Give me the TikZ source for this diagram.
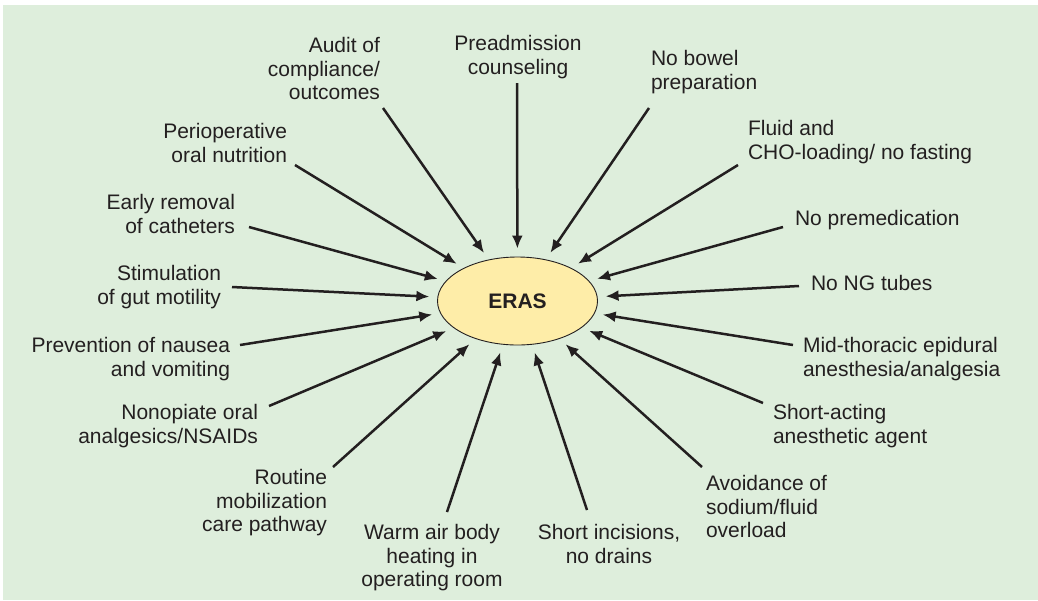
\documentclass[tikz,border=0pt]{standalone}
\usepackage{fontspec}
\setmainfont{Liberation Sans}
\usetikzlibrary{shapes.geometric,arrows.meta}
\definecolor{bggreen}{HTML}{DEEEDC}
\definecolor{ellfill}{HTML}{FEEDA8}
\definecolor{ink}{HTML}{231F20}
\begin{document}
\begin{tikzpicture}[x=1pt,y=-1pt,
  lbl/.style={inner sep=0pt,outer sep=0pt,text=ink,font=\fontsize{21}{23.5}\selectfont},
  lblL/.style={lbl,align=left,anchor=north west},
  lblR/.style={lbl,align=right,anchor=north east},
  lblC/.style={lbl,align=center,anchor=north},
  arr/.style={draw=ink,line width=2.5pt,-{Latex[length=13pt,width=11pt]},shorten >=8pt},
  center/.style={ellipse,draw=ink,line width=0.9pt,fill=ellfill,minimum width=160pt,minimum height=88pt,inner sep=0pt,text=ink,font=\fontsize{21}{24}\selectfont\bfseries}]
\useasboundingbox (0,0) rectangle (1038,600);
\fill[bggreen] (3,5) rectangle (1038,600);

\node[center] (eras) at (517.5,301) {ERAS};

\node[lblR] (audit) at (380,37.5) {Audit of\\compliance/\\outcomes};
\node[lblC] (pread) at (518,35.5) {Preadmission\\counseling};
\node[lblL] (bowel) at (651,50.5) {No bowel\\preparation};
\node[lblL] (fluid) at (748,120.5) {Fluid and\\CHO-loading/ no fasting};
\node[lblL] (premed) at (795,210.5) {No premedication};
\node[lblL] (ng) at (811,275.5) {No NG tubes};
\node[lblL] (mid) at (803,337.5) {Mid-thoracic epidural\\anesthesia/analgesia};
\node[lblL] (shortact) at (773,404.5) {Short-acting\\anesthetic agent};
\node[lblL] (avoid) at (706,475.5) {Avoidance of\\sodium/fluid\\overload};
\node[lblC] (incis) at (609,524.5) {Short incisions,\\no drains};
\node[lblC] (warm) at (432,524.5) {Warm air body\\heating in\\operating room};
\node[lblR] (routine) at (327,469.5) {Routine\\mobilization\\care pathway};
\node[lblR] (nonop) at (258,404.5) {Nonopiate oral\\analgesics/NSAIDs};
\node[lblR] (prev) at (230,337.5) {Prevention of nausea\\and vomiting};
\node[lblR] (stim) at (221,265.5) {Stimulation\\of gut motility};
\node[lblR] (early) at (235,194.5) {Early removal\\of catheters};
\node[lblR] (periop) at (287,123.5) {Perioperative\\oral nutrition};

\coordinate (s1) at (383,108);
\coordinate (s2) at (517,83);
\coordinate (s3) at (649,108);
\coordinate (s4) at (738,165);
\coordinate (s5) at (783,227);
\coordinate (s6) at (799,286);
\coordinate (s7) at (793,345);
\coordinate (s8) at (763,403);
\coordinate (s9) at (702,467);
\coordinate (s10) at (587,510);
\coordinate (s11) at (447,512);
\coordinate (s12) at (333,467);
\coordinate (s13) at (269,406);
\coordinate (s14) at (240,345);
\coordinate (s15) at (232,287);
\coordinate (s16) at (249,227);
\coordinate (s17) at (295,165);

\foreach \i in {1,...,17} {\draw[arr] (s\i) -- (eras);}
\end{tikzpicture}
\end{document}
